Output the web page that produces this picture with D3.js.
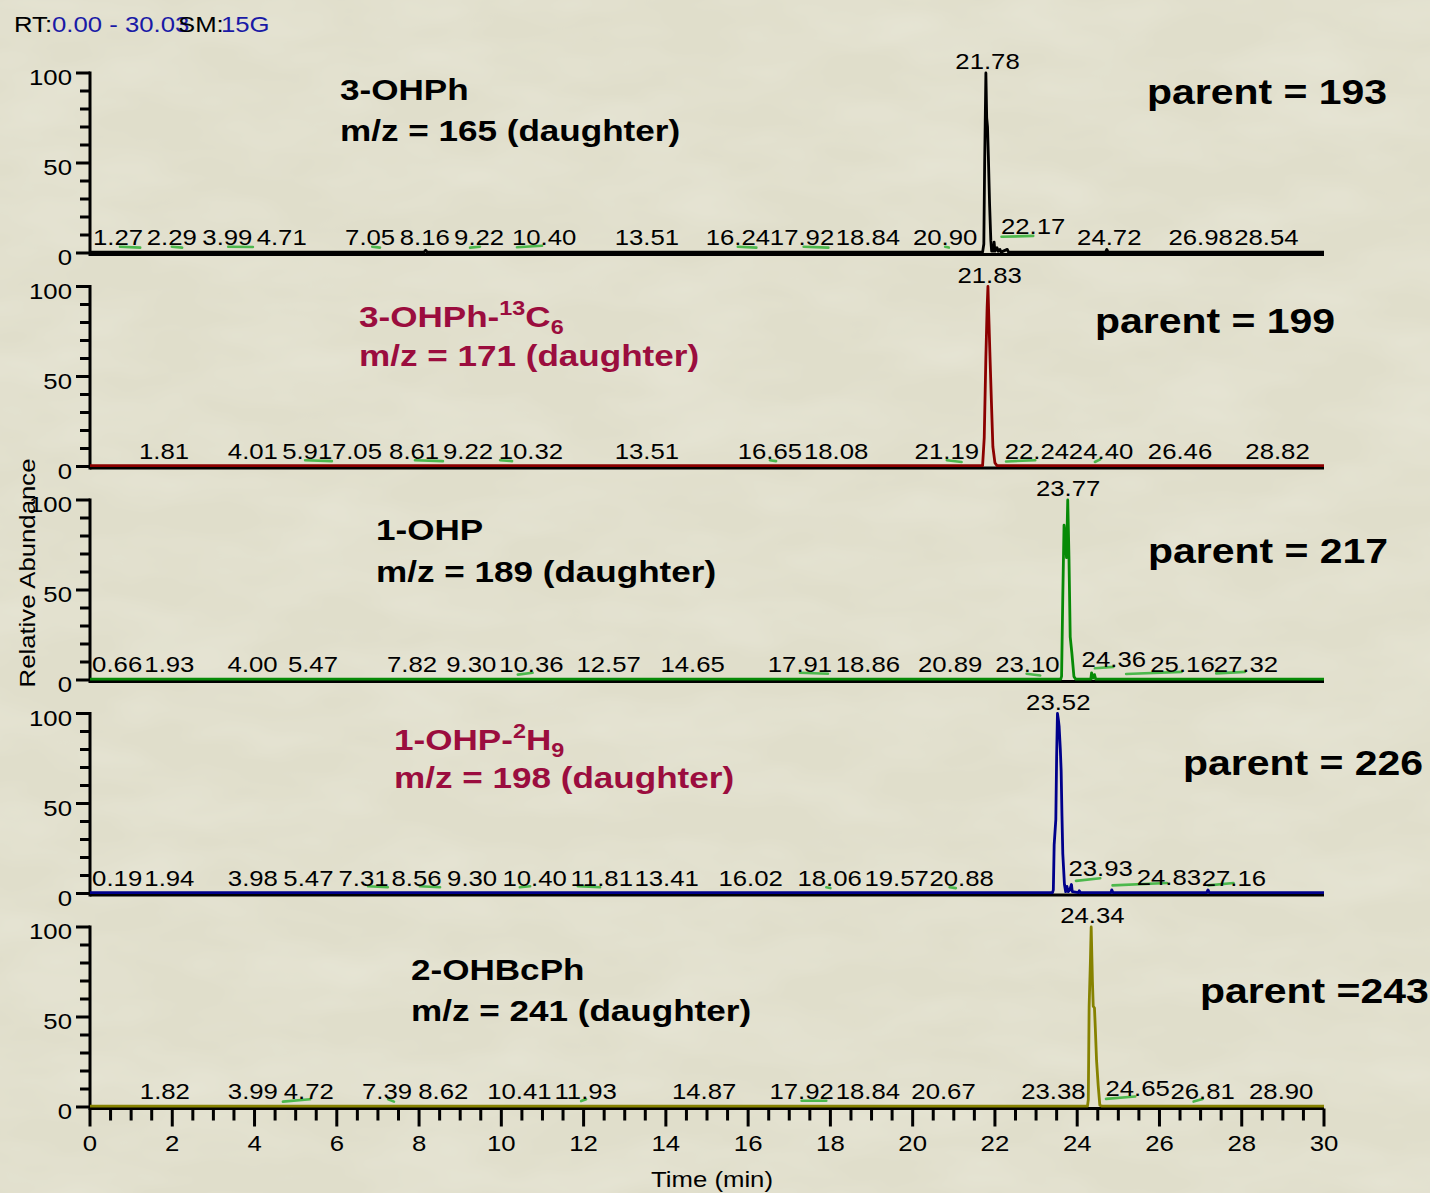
<!DOCTYPE html>
<html><head><meta charset="utf-8">
<script src="https://cdn.jsdelivr.net/npm/d3@7"></script>
<style>html,body{margin:0;padding:0;background:#e2e0cd;}svg{display:block}</style>
</head><body>
<svg id="c" width="1430" height="1193"></svg>
<script>
// ---------------- DATA ----------------
const timeTicks = d3.range(0, 31, 2);
const timeMinorTicks = d3.range(0, 30.01, 0.5);
const abundanceTicks = d3.range(0, 101, 10);
const abundanceLabels = [0, 50, 100];

const compoundLabels = [
  [["3-OHPh"]],
  [["3-OHPh-"], ["13", "sup"], ["C"], ["6", "sub"]],
  [["1-OHP"]],
  [["1-OHP-"], ["2", "sup"], ["H"], ["9", "sub"]],
  [["2-OHBcPh"]]
];
const mzLabels = ["m/z = 165 (daughter)", "m/z = 171 (daughter)", "m/z = 189 (daughter)", "m/z = 198 (daughter)", "m/z = 241 (daughter)"];
const parentLabels = ["parent = 193", "parent = 199", "parent = 217", "parent = 226", "parent =243"];
const traceColors = ["#000000", "#8b0000", "#078a07", "#00008b", "#868200"];
const annotationColors = ["#000000", "#9b0d3e", "#000000", "#9b0d3e", "#000000"];

// traces: [time (min), relative abundance (%)]
const trace1 = [[0,0.5],[8.12,0.5],[8.16,1.5],[8.2,0.5],[21.70,0.5],[21.73,5],[21.75,50],[21.78,100],[21.80,75],[21.82,70],[21.84,54],[21.87,27],[21.90,7],[21.92,1],[21.96,1],[21.98,6],[22.00,1],[22.05,3],[22.08,1],[22.12,2],[22.15,0.5],[22.30,2],[22.33,0.5],[24.69,0.5],[24.72,2],[24.75,0.5],[30,0.5]];
const trace2 = [[0,0.5],[21.70,0.5],[21.74,16],[21.78,61],[21.81,88],[21.83,100],[21.85,84],[21.88,61],[21.91,39],[21.95,11],[22.00,2],[22.05,0.5],[30,0.5]];
const trace3 = [[0,0.5],[23.60,0.5],[23.62,2],[23.65,47],[23.68,86],[23.71,80],[23.74,68],[23.77,100],[23.80,68],[23.83,24],[23.87,15],[23.92,2],[23.96,0.5],[24.33,0.5],[24.35,4],[24.38,1],[24.42,3],[24.45,0.5],[30,0.5]];
const trace4 = [[0,0.5],[23.40,0.5],[23.42,2],[23.44,27],[23.48,41],[23.50,76],[23.52,100],[23.54,97],[23.56,93],[23.59,80],[23.61,68],[23.63,43],[23.65,22],[23.69,5],[23.72,1],[23.75,4],[23.78,1],[23.82,2],[23.86,5],[23.88,1],[24.03,0.5],[24.05,1.5],[24.08,0.5],[24.82,0.5],[24.84,2],[24.87,0.5],[27.15,0.5],[27.18,2],[27.21,0.5],[30,0.5]];
const trace5 = [[0,0.5],[24.25,0.5],[24.27,4],[24.29,56],[24.32,80],[24.34,100],[24.37,70],[24.39,56],[24.42,55],[24.44,44],[24.47,26],[24.51,12],[24.55,1],[24.60,0.5],[30,0.5]];
const traces = [trace1, trace2, trace3, trace4, trace5];

// peak labels: [text, anchor time (min), level (%)]
const peaks1 = [["1.27",0.68],["2.29",1.99],["3.99",3.34],["4.71",4.66],["7.05",6.81],["8.16",8.14],["9.22",9.46],["10.40",11.04],["13.51",13.54],["16.24",15.75],["17.92",17.31],["18.84",18.91],["20.90",20.79],["22.17",22.93,10.5],["24.72",24.78],["26.98",27.0],["28.54",28.6],["21.78",21.82,102]];
const peaks2 = [["1.81",1.80],["4.01",3.96],["5.91",5.28],["7.05",6.49],["8.61",7.88],["9.22",9.19],["10.32",10.72],["13.51",13.54],["16.65",16.53],["18.08",18.14],["21.19",20.83],["22.24",23.02],["24.40",24.58],["26.46",26.50],["28.82",28.87],["21.83",21.87,102]];
const peaks3 = [["0.66",0.66],["1.93",1.93],["4.00",3.95],["5.47",5.42],["7.82",7.83],["9.30",9.27],["10.36",10.73],["12.57",12.61],["14.65",14.65],["17.91",17.26],["18.86",18.91],["20.89",20.91],["23.10",22.79],["24.36",24.89,7.5],["25.16",26.56],["27.32",28.10],["23.77",23.78,102]];
const peaks4 = [["0.19",0.66],["1.94",1.93],["3.98",3.96],["5.47",5.31],["7.31",6.65],["8.56",7.94],["9.30",9.29],["10.40",10.81],["11.81",12.44],["13.41",14.02],["16.02",16.06],["18.06",17.98],["19.57",19.61],["20.88",21.19],["23.93",24.57,10],["24.83",26.23,5],["27.16",27.81],["23.52",23.54,102]];
const peaks5 = [["1.82",1.82],["3.99",3.96],["4.72",5.32],["7.39",7.22],["8.62",8.59],["10.41",10.44],["11.93",12.05],["14.87",14.93],["17.92",17.30],["18.84",18.91],["20.67",20.75],["23.38",23.42],["24.65",25.47,6],["26.81",27.05],["28.90",28.96],["24.34",24.37,102]];
const peakLabels = [peaks1, peaks2, peaks3, peaks4, peaks5];

// green integration marks: [t1, v1, t2, v2]
const marks1 = [[0.73,3.5,1.22,3],[1.99,3.5,2.24,3],[3.36,3.5,3.96,3.3],[6.86,3.5,7.05,3],[9.24,3,9.48,3.5],[10.38,3.2,10.99,4],[15.75,3.5,16.2,3],[17.35,3.5,17.95,3],[20.79,3.5,20.88,3],[22.16,9,22.93,9.5]];
const marks2 = [[5.23,3.5,5.88,3],[7.90,3.5,8.58,3],[9.97,3.5,10.26,3],[16.53,3.5,16.68,3],[20.83,3.5,21.19,2.5],[22.27,2.8,22.98,3.5],[24.43,2.5,24.56,4]];
const marks3 = [[10.40,3,10.76,4],[17.26,4,17.94,3.5],[22.77,3.5,23.10,2.5],[24.43,6.5,24.88,7.3],[25.19,3.3,26.54,4.5],[27.38,3.7,28.08,4.5]];
const marks4 = [[6.76,4,7.24,3.5],[8.02,4,8.51,3.5],[10.45,3.5,10.70,4],[11.86,4,12.40,3.5],[17.9,3.5,18.0,3],[20.9,3.5,21.05,3],[23.97,7,24.56,8.5],[24.86,4.5,26.18,5.8],[27.19,4.5,27.80,5.8]];
const marks5 = [[4.69,3,5.35,4.3],[7.25,4.3,7.39,3],[11.94,3.3,12.06,4.3],[17.3,3.5,17.9,3.5],[24.70,4.5,25.41,5.8],[26.83,3,27.05,4.5]];
const marks = [marks1, marks2, marks3, marks4, marks5];

// ---------------- LAYOUT ----------------
const FONT = "'Liberation Sans', Arial, Helvetica, sans-serif";
const SX = 1.17;
const X0 = 90, X1 = 1324;
const PANEL_ZERO = 253, PANEL_STEP = 213.5, PANEL_H = 180;
const compoundPos = [[340,100],[359,327],[376,540],[394,750],[411,980]];
const mzPos = [[340,141],[359,366],[376,582],[394,788],[411,1021]];
const parentPos = [[1147,104],[1095,333],[1148,563],[1183,775],[1200,1003]];

const svg = d3.select("#c");
const x = d3.scaleLinear().domain([0, 30]).range([X0, X1]);

// background
const defs = svg.append("defs");
const f = defs.append("filter").attr("id", "tex").attr("x", 0).attr("y", 0).attr("width", 1).attr("height", 1);
f.append("feTurbulence").attr("type", "fractalNoise").attr("baseFrequency", "0.008 0.02").attr("numOctaves", 3).attr("seed", 7);
f.append("feColorMatrix").attr("type", "matrix")
  .attr("values", "0 0 0 0 1  0 0 0 0 1  0 0 0 0 0.95  0.35 0 0 0 -0.12");
svg.append("rect").attr("width", 1430).attr("height", 1193).attr("fill", "#e0decb");
svg.append("rect").attr("width", 1430).attr("height", 1193).attr("filter", "url(#tex)");

function addText(parent, px, py, o) {
  const t = parent.append("text")
    .attr("transform", `translate(${px},${py})${o.rotate ? ` rotate(${o.rotate})` : ""} scale(${SX},1)`)
    .attr("font-family", FONT)
    .attr("font-size", o.size || 22)
    .attr("font-weight", o.bold ? "bold" : "normal")
    .attr("fill", o.fill || "#000")
    .attr("text-anchor", o.anchor || "start");
  if (o.text !== undefined) t.text(o.text);
  return t;
}

// header
const hdr = svg.append("g");
addText(hdr, 14, 32, {text: "RT:"});
addText(hdr, 52, 32, {text: "0.00 - 30.03", fill: "#1a1aa6"});
addText(hdr, 178, 32, {text: "SM:"});
addText(hdr, 221, 32, {text: "15G", fill: "#1a1aa6"});

const line = d3.line().x(d => x(d[0]));

traces.forEach((tr, i) => {
  const y0 = PANEL_ZERO + i * PANEL_STEP;
  const y = d3.scaleLinear().domain([0, 100]).range([y0, y0 - PANEL_H]);
  const g = svg.append("g");

  // y axis
  const yAxis = g.append("g");
  yAxis.append("line").attr("x1", X0).attr("x2", X0).attr("y1", y(100) - 1.5).attr("y2", y0 + 3)
    .attr("stroke", "#000").attr("stroke-width", 3);
  yAxis.selectAll(".yt").data(abundanceTicks).join("line")
    .attr("x1", d => abundanceLabels.includes(d) ? X0 - 14 : X0 - 10).attr("x2", X0)
    .attr("y1", d => y(d)).attr("y2", d => y(d))
    .attr("stroke", "#000").attr("stroke-width", 3);
  abundanceLabels.forEach(v => addText(yAxis, X0 - 18, y(v) + 12, {text: String(v), anchor: "end"}));

  // green marks
  g.selectAll(".mk").data(marks[i]).join("line")
    .attr("x1", d => x(d[0])).attr("y1", d => y(d[1]))
    .attr("x2", d => x(d[2])).attr("y2", d => y(d[3]))
    .attr("stroke", "#4cb84c").attr("stroke-width", 2.6).attr("stroke-linecap", "round");

  // baseline axis line
  g.append("line").attr("x1", X0).attr("x2", X1).attr("y1", y0 + 1.5).attr("y2", y0 + 1.5)
    .attr("stroke", "#000").attr("stroke-width", 3);

  // trace
  line.y(d => y(d[1]));
  g.append("path").datum(tr).attr("d", line).attr("fill", "none")
    .attr("stroke", traceColors[i]).attr("stroke-width", 2.8).attr("stroke-linejoin", "round");

  // peak labels
  peakLabels[i].forEach(p => {
    addText(g, x(p[1]), y(p[2] === undefined ? 4.2 : p[2]), {text: p[0], anchor: "middle"});
  });

  // annotations
  const ct = addText(g, compoundPos[i][0], compoundPos[i][1], {size: 30, bold: true, fill: annotationColors[i]});
  let shift = 0;
  compoundLabels[i].forEach(seg => {
    const ts = ct.append("tspan").text(seg[0]);
    let target = 0;
    if (seg[1] === "sup") { target = -12; ts.attr("font-size", 20); }
    if (seg[1] === "sub") { target = 7; ts.attr("font-size", 20); }
    ts.attr("dy", target - shift);
    shift = target;
  });
  addText(g, mzPos[i][0], mzPos[i][1], {size: 30, bold: true, fill: annotationColors[i], text: mzLabels[i]});
  addText(g, parentPos[i][0], parentPos[i][1], {size: 35, bold: true, text: parentLabels[i]});
});

// x axis ticks at bottom
const yb = PANEL_ZERO + 4 * PANEL_STEP + 1.5;
const xa = svg.append("g");
xa.selectAll(".xt").data(timeMinorTicks).join("line")
  .attr("x1", d => x(d)).attr("x2", d => x(d))
  .attr("y1", yb).attr("y2", d => (Math.abs(d % 2) < 1e-9) ? yb + 18 : yb + 12)
  .attr("stroke", "#000").attr("stroke-width", 3);
timeTicks.forEach(t => addText(xa, x(t), 1151, {text: String(t), anchor: "middle"}));
addText(svg, 712, 1187, {text: "Time (min)", anchor: "middle"});
addText(svg, 35, 573, {text: "Relative Abundance", anchor: "middle", rotate: -90});
</script>
</body></html>
